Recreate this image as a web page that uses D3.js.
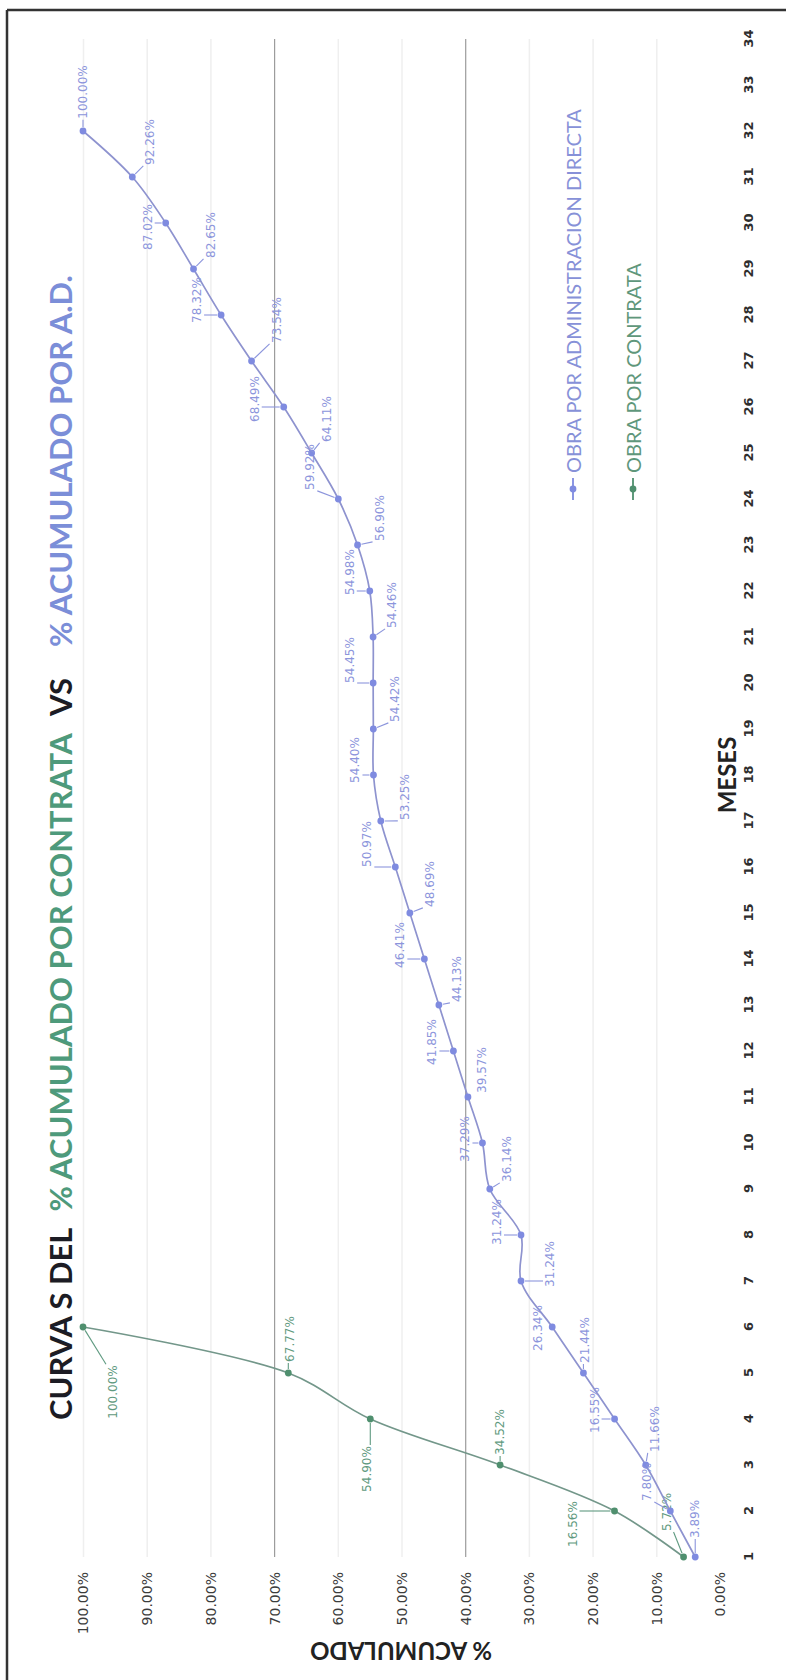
<!DOCTYPE html>
<html>
<head>
<meta charset="utf-8">
<script src="https://cdn.jsdelivr.net/npm/d3@7"></script>
<style>
  html, body { margin: 0; padding: 0; background: #ffffff; }
  svg { display: block; }
</style>
</head>
<body>
<svg id="chart" width="786" height="1680"></svg>
<script>
// ---- data ----
const months = d3.range(1, 35);                 // MESES 1..34
const yTicks = [0, 10, 20, 30, 40, 50, 60, 70, 80, 90, 100];

const adMonths = d3.range(1, 33);               // obra por administración directa
const adValues = [3.89, 7.80, 11.66, 16.55, 21.44, 26.34, 31.24, 31.24, 36.14, 37.29,
                  39.57, 41.85, 44.13, 46.41, 48.69, 50.97, 53.25, 54.40, 54.42, 54.45,
                  54.46, 54.98, 56.90, 59.92, 64.11, 68.49, 73.54, 78.32, 82.65, 87.02,
                  92.26, 100.00];

const contrataMonths = [1, 2, 3, 4, 5, 6];      // obra por contrata
const contrataValues = [5.72, 16.56, 34.52, 54.90, 67.77, 100.00];

const seriesNames = ["OBRA POR ADMINISTRACION DIRECTA", "OBRA POR CONTRATA"];

// ---- label placement (offsets from each point, px along / across the month axis) ----
const adLabelOffsets = [[38,0],[29,-23],[36,9],[9,-20],[33,2],[-1,-14],[17,29],[13,-24],
  [30,17],[4,-17],[27,14],[9,-21],[26,18],[14,-24],[29,20],[23,-28],[24,24],[15,-18],
  [30,22],[23,-23],[32,19],[19,-20],[27,22],[32,-28],[34,15],[8,-29],[41,25],[15,-24],
  [34,17],[-4,-18],[35,18],[39,0]];
const contrataLabelOffsets = [[45,-17],[-13,-42],[33,0],[-50,-3],[34,2],[-65,30]];

// ---- styles ----
const BLUE = "#7f8be0", BLUE_LINE = "#8e93cf", BLUE_TEXT = "#8c95dc";
const GREEN = "#4f8f6e", GREEN_LINE = "#73978a", GREEN_TEXT = "#5f9a80";
const TITLE_GREEN = "#4e9a7b", TITLE_BLUE = "#7b8ed8";

// The chart is laid out in a landscape frame (1680 x 786) and turned a quarter
// turn counter-clockwise onto the portrait page.
const FW = 1680, FH = 786;
const svg = d3.select("#chart");
const g = svg.append("g").attr("transform", `translate(0,${FW}) rotate(-90)`);

const x = d3.scaleLinear().domain([1, 34]).range([123, 1641]);
const y = d3.scaleLinear().domain([0, 100]).range([720, 83]);

// frame
g.append("line").attr("x1", 0).attr("x2", 1670).attr("y1", 7).attr("y2", 7)
  .attr("stroke", "#333").attr("stroke-width", 2.5);
g.append("line").attr("x1", 1670).attr("x2", 1670).attr("y1", 7).attr("y2", FH)
  .attr("stroke", "#333").attr("stroke-width", 2.5);

// gridlines
const grid = g.append("g").attr("transform", `translate(${x(1)},0)`)
  .call(d3.axisLeft(y).tickValues(yTicks).tickSize(-(x(34) - x(1))).tickFormat(""));
grid.select(".domain").remove();
grid.selectAll(".tick line")
  .attr("stroke", d => (d === 70 || d === 40) ? "#9c9c9c" : (d === 0 ? "none" : "#efefef"))
  .attr("stroke-width", d => (d === 70 || d === 40) ? 1.2 : 1.5);

// value axis labels
const yAxis = g.append("g").attr("transform", `translate(${x(1)},0)`)
  .call(d3.axisLeft(y).tickValues(yTicks).tickSize(0).tickPadding(15)
    .tickFormat(d => d.toFixed(2) + "%"));
yAxis.select(".domain").remove();
yAxis.selectAll("text")
  .attr("dy", "0.35em")
  .style("font-family", "'DejaVu Sans', sans-serif")
  .style("font-size", "14px")
  .attr("fill", "#3c3c3c");

// month axis labels
const xAxis = g.append("g").attr("transform", "translate(0,748)")
  .call(d3.axisBottom(x).tickValues(months).tickSize(0).tickFormat(d3.format("d")));
xAxis.select(".domain").remove();
xAxis.selectAll("text")
  .attr("y", 0).attr("dy", "0.35em")
  .style("font-family", "'DejaVu Sans', sans-serif")
  .style("font-size", "13px")
  .style("font-weight", "bold")
  .attr("fill", "#2e2e2e");

// axis titles
g.append("text")
  .attr("x", 905).attr("y", 726)
  .attr("text-anchor", "middle").attr("dominant-baseline", "central")
  .style("font-family", "Lato, sans-serif").style("font-weight", "bold").style("font-size", "24px")
  .attr("fill", "#222").text("MESES");

g.append("text")
  .attr("transform", "translate(29,401) rotate(-90)")
  .attr("text-anchor", "middle").attr("dominant-baseline", "central")
  .style("font-family", "Lato, sans-serif").style("font-weight", "bold").style("font-size", "24px")
  .attr("fill", "#222").text("% ACUMULADO");

// title
const title = g.append("text")
  .attr("x", 260).attr("y", 72)
  .style("font-family", "Lato, sans-serif").style("font-weight", "bold").style("font-size", "35px");
title.append("tspan").attr("fill", "#1c1c24").text("CURVA S DEL");
title.append("tspan").attr("dx", 16).attr("fill", TITLE_GREEN).text("% ACUMULADO POR CONTRATA");
title.append("tspan").attr("dx", 19).attr("fill", "#1c1c24").text("VS");
title.append("tspan").attr("dx", 31).attr("fill", TITLE_BLUE).text("% ACUMULADO POR A.D.");
function fitWidth(sel, target) {
  for (let k = 0; k < 4; k++) {
    const w = sel.node().getBBox().width;
    const fs = parseFloat(sel.style("font-size"));
    sel.style("font-size", (fs * target / w) + "px");
  }
}
fitWidth(title, 1145);

// series
const adData = adMonths.map((m, i) => ({ m, v: adValues[i], off: adLabelOffsets[i] }));
const ctData = contrataMonths.map((m, i) => ({ m, v: contrataValues[i], off: contrataLabelOffsets[i] }));

const line = d3.line().x(d => x(d.m)).y(d => y(d.v)).curve(d3.curveCatmullRom.alpha(0.5));

function drawSeries(data, lineColor, markColor, textColor) {
  const s = g.append("g");
  s.append("path").datum(data)
    .attr("d", line).attr("fill", "none")
    .attr("stroke", lineColor).attr("stroke-width", 1.7);
  s.selectAll("circle").data(data).join("circle")
    .attr("cx", d => x(d.m)).attr("cy", d => y(d.v)).attr("r", 3.4)
    .attr("fill", markColor);
  const labels = s.selectAll("text").data(data).join("text")
    .attr("x", d => x(d.m) + d.off[0]).attr("y", d => y(d.v) + d.off[1])
    .attr("text-anchor", "middle").attr("dominant-baseline", "central")
    .style("font-family", "'DejaVu Sans', sans-serif").style("font-size", "12px")
    .attr("fill", textColor)
    .text(d => d.v.toFixed(2) + "%");
  // leader lines for labels set apart from their point
  labels.each(function (d) {
    const b = this.getBBox();
    const px = x(d.m), py = y(d.v);
    const qx = Math.max(b.x - 1, Math.min(px, b.x + b.width + 1));
    const qy = Math.max(b.y, Math.min(py, b.y + b.height));
    const dist = Math.hypot(qx - px, qy - py);
    if (dist > 8) {
      const r = 4 / dist;
      s.append("line")
        .attr("x1", px + (qx - px) * r).attr("y1", py + (qy - py) * r)
        .attr("x2", qx).attr("y2", qy)
        .attr("stroke", textColor).attr("stroke-width", 1.1);
    }
  });
}
drawSeries(ctData, GREEN_LINE, GREEN, GREEN_TEXT);
drawSeries(adData, BLUE_LINE, BLUE, BLUE_TEXT);

// legend
const legendRows = [
  { name: seriesNames[0], color: BLUE, text: "#8791d8", w: 573 },
  { name: seriesNames[1], color: GREEN, text: "#5f977b", w: 633 }
];
legendRows.forEach(r => {
  const lg = g.append("g").attr("transform", `translate(0,${r.w})`);
  lg.append("line").attr("x1", 1180).attr("x2", 1202).attr("y1", 0).attr("y2", 0)
    .attr("stroke", r.color).attr("stroke-width", 1.8);
  lg.append("circle").attr("cx", 1191).attr("cy", 0).attr("r", 3.4).attr("fill", r.color);
  lg.append("text").attr("x", 1207).attr("y", 0).attr("dominant-baseline", "central")
    .style("font-family", "Lato, sans-serif").style("font-size", "20px")
    .attr("fill", r.text).text(r.name);
});
</script>
</body>
</html>
